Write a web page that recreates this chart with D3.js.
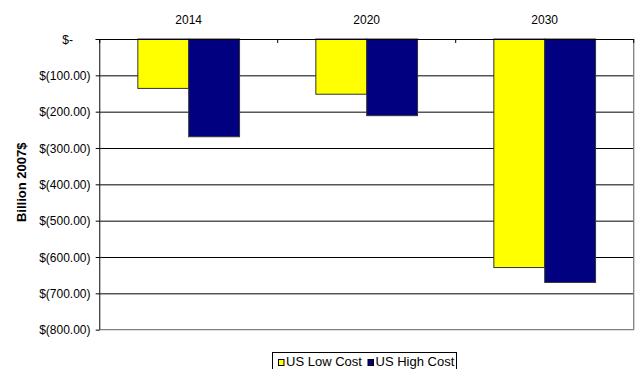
<!DOCTYPE html>
<html>
<head>
<meta charset="utf-8">
<script src="https://cdn.jsdelivr.net/npm/d3@7"></script>
<style>
  html, body { margin: 0; padding: 0; background: #fff; }
  svg { display: block; font-family: "Liberation Sans", Arial, sans-serif; }
</style>
</head>
<body>
<svg id="chart" width="637" height="369"></svg>
<script>
// Chart data (billion 2007$)
const categories = ["2014", "2020", "2030"];
const seriesNames = ["US Low Cost", "US High Cost"];
const lowCost = [-136, -152, -629];
const highCost = [-269, -211, -670];
const seriesColors = ["#FFFF00", "#000080"];
const tickValues = [0, -100, -200, -300, -400, -500, -600, -700, -800];
const tickLabels = ["$-", "$(100.00)", "$(200.00)", "$(300.00)", "$(400.00)",
                    "$(500.00)", "$(600.00)", "$(700.00)", "$(800.00)"];

const svg = d3.select("#chart");
const plotLeft = 99.7, plotRight = 633.7, plotTop = 39, plotBottom = 329.67;

const y = d3.scaleLinear().domain([0, -800]).range([plotTop, plotBottom]);
const x0 = d3.scaleBand().domain(categories).range([plotLeft, plotRight])
  .paddingInner(1.5 / 3.5).paddingOuter(0.75 / 3.5);
const x1 = d3.scaleBand().domain(seriesNames).range([0, x0.bandwidth()]);

// Gridlines
svg.append("g").selectAll("line")
  .data(tickValues.slice(1, -1))
  .join("line")
  .attr("x1", plotLeft).attr("x2", plotRight)
  .attr("y1", d => y(d) + 0.5).attr("y2", d => y(d) + 0.5)
  .attr("stroke", "#000").attr("stroke-width", 1);

// Plot area frame (right and bottom)
svg.append("path")
  .attr("d", `M${plotRight},${plotTop}V${plotBottom}H${plotLeft}`)
  .attr("fill", "none").attr("stroke", "#808080").attr("stroke-width", 1.3);

// Bars
const rows = categories.map((c, i) => ({ cat: c, vals: [lowCost[i], highCost[i]] }));
svg.append("g").selectAll("g")
  .data(rows)
  .join("g")
  .attr("transform", d => `translate(${x0(d.cat)},0)`)
  .selectAll("rect")
  .data(d => d.vals.map((v, j) => ({ name: seriesNames[j], v, j })))
  .join("rect")
  .attr("x", d => x1(d.name))
  .attr("y", y(0))
  .attr("width", x1.bandwidth())
  .attr("height", d => y(d.v) - y(0))
  .attr("fill", d => seriesColors[d.j])
  .attr("stroke", "#333").attr("stroke-width", 1);

// Value axis
const yAxis = svg.append("g");
yAxis.append("line")
  .attr("x1", plotLeft).attr("x2", plotLeft).attr("y1", plotTop).attr("y2", plotBottom)
  .attr("stroke", "#404040").attr("stroke-width", 1.3);
yAxis.selectAll("line.tick")
  .data(tickValues)
  .join("line").attr("class", "tick")
  .attr("x1", plotLeft - 4).attr("x2", plotLeft)
  .attr("y1", d => y(d) + 0.5).attr("y2", d => y(d) + 0.5)
  .attr("stroke", "#000");
yAxis.selectAll("text")
  .data(tickValues)
  .join("text")
  .attr("x", (d, i) => i === 0 ? 73 : 90.5)
  .attr("y", d => y(d) + 4.5)
  .attr("text-anchor", "end")
  .attr("font-size", 12)
  .attr("fill", "#000")
  .text((d, i) => tickLabels[i]);

// Category axis along zero
const xAxis = svg.append("g");
xAxis.append("line")
  .attr("x1", plotLeft - 4).attr("x2", plotRight).attr("y1", plotTop + 0.5).attr("y2", plotTop + 0.5)
  .attr("stroke", "#000").attr("stroke-width", 1.2);
const boundaries = categories.map(c => x0(c) - x0.step() * x0.paddingOuter())
  .concat([plotRight]);
xAxis.selectAll("line.tick")
  .data(boundaries)
  .join("line").attr("class", "tick")
  .attr("x1", d => d).attr("x2", d => d)
  .attr("y1", plotTop).attr("y2", plotTop + 4)
  .attr("stroke", "#000");
xAxis.selectAll("text")
  .data(categories)
  .join("text")
  .attr("x", d => x0(d) + x0.bandwidth() / 2)
  .attr("y", 24)
  .attr("text-anchor", "middle")
  .attr("font-size", 12)
  .text(d => d);

// Axis title
svg.append("text")
  .attr("transform", `translate(25.5,${(plotTop + plotBottom) / 2 - 2}) rotate(-90)`)
  .attr("text-anchor", "middle")
  .attr("font-size", 13)
  .attr("font-weight", "bold")
  .text("Billion 2007$");

// Legend
const legend = svg.append("g");
legend.append("rect")
  .attr("x", 272.5).attr("y", 352.5).attr("width", 184).attr("height", 24)
  .attr("fill", "#fff").attr("stroke", "#000");
const legendX = [278, 367.5];
const legendItems = legend.selectAll("g.item")
  .data(seriesNames)
  .join("g").attr("class", "item")
  .attr("transform", (d, i) => `translate(${legendX[i]},0)`);
legendItems.append("rect")
  .attr("x", 0.5).attr("y", 359.5).attr("width", 5.5).attr("height", 6)
  .attr("fill", (d, i) => seriesColors[i]).attr("stroke", "#000").attr("stroke-width", 1);
legendItems.append("text")
  .attr("x", 8).attr("y", 366)
  .attr("font-size", 13)
  .text(d => d);
</script>
</body>
</html>
